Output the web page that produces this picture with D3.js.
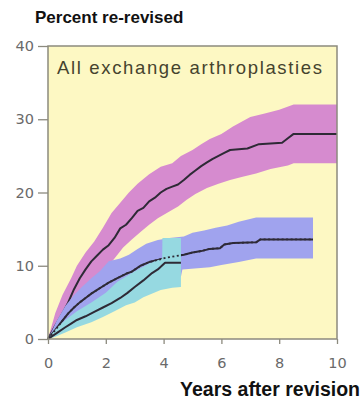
<!DOCTYPE html>
<html>
<head>
<meta charset="utf-8">
<script src="https://cdn.jsdelivr.net/npm/d3@7"></script>
<style>
  html, body { margin: 0; padding: 0; background: #ffffff; }
  svg { display: block; }
  text { font-family: "Liberation Sans", Arial, Helvetica, sans-serif; }
</style>
</head>
<body>
<svg id="chart" width="362" height="401"></svg>
<script>
// Cumulative re-revision (%) against years after revision, [years, percent]
const pinkLine = [[0,0],[0.25,1.8],[0.5,3.5],[0.7,5.0],[0.9,6.8],[1.1,8.3],[1.3,9.5],[1.5,10.6],[1.7,11.4],[1.9,12.2],[2.1,12.8],[2.3,13.8],[2.5,15.1],[2.7,15.6],[2.9,16.5],[3.1,17.5],[3.3,17.9],[3.5,18.8],[3.7,19.3],[3.9,20.0],[4.1,20.5],[4.3,20.8],[4.5,21.1],[4.7,21.7],[4.9,22.4],[5.1,23.0],[5.3,23.6],[5.5,24.1],[5.7,24.6],[5.9,25.0],[6.1,25.4],[6.3,25.8],[6.9,26.0],[7.3,26.6],[8.1,26.8],[8.3,27.4],[8.5,28.0],[10,28.0]];
const pinkUpper = [[0,0],[0.25,3.5],[0.5,6.0],[0.8,8.3],[1.0,10.0],[1.3,11.8],[1.6,13.3],[1.9,15.2],[2.2,17.2],[2.5,18.6],[2.8,20.0],[3.1,21.2],[3.5,22.5],[3.9,23.5],[4.3,24.0],[4.6,25.0],[5.0,25.8],[5.3,26.6],[5.6,27.3],[6.0,28.0],[6.4,29.0],[7.0,30.3],[7.5,30.8],[8.0,31.3],[8.5,32.0],[10,32.0]];
const pinkLower = [[0,0],[0.5,2.5],[1.0,5.0],[1.5,7.5],[2.0,9.6],[2.3,11.0],[2.6,12.5],[2.9,13.6],[3.2,14.6],[3.5,15.6],[3.8,16.5],[4.2,17.4],[4.5,18.1],[4.8,19.0],[5.1,19.8],[5.5,20.6],[5.9,21.2],[6.3,21.7],[6.7,22.1],[7.2,22.6],[7.7,23.2],[8.3,23.7],[8.5,24.0],[10,24.0]];

const blueLine = [[0,0],[0.25,1.2],[0.5,2.5],[0.7,3.5],[0.9,4.3],[1.1,5.0],[1.3,5.6],[1.5,6.2],[1.7,6.7],[1.9,7.2],[2.1,7.7],[2.4,8.3],[2.7,8.9],[2.9,9.2],[3.2,10.0],[3.5,10.5],[3.8,10.8],[4.1,11.1],[4.4,11.3],[4.7,11.5],[5.0,11.8],[5.3,12.0],[5.6,12.3],[5.95,12.4],[6.1,12.9],[6.4,13.1],[7.2,13.2],[7.35,13.6],[9.17,13.6]];
const blueUpper = [[0,0],[0.3,2.5],[0.6,4.5],[0.9,6.0],[1.2,7.2],[1.5,8.3],[1.8,9.3],[2.1,10.6],[2.5,11.0],[2.8,11.5],[3.1,12.3],[3.4,13.0],[3.8,13.5],[4.2,13.8],[4.7,14.0],[5.0,14.5],[5.4,14.8],[5.8,15.2],[6.2,15.5],[6.6,16.0],[7.2,16.6],[9.17,16.6]];
const blueLower = [[0,0],[0.5,1.5],[1.0,3.0],[1.5,4.3],[2.0,5.5],[2.5,6.5],[3.0,7.3],[3.5,7.8],[4.0,8.2],[4.6,8.5],[4.65,9.5],[5.6,9.8],[6.0,10.1],[6.6,10.5],[7.2,11.0],[9.17,11.0]];

const cyanLine = [[0,0],[0.3,0.8],[0.6,1.6],[0.8,2.1],[1.0,2.6],[1.3,3.1],[1.6,3.7],[1.9,4.3],[2.2,4.9],[2.5,5.6],[2.75,6.3],[3.0,7.1],[3.3,8.0],[3.6,9.0],[3.8,9.5],[4.05,10.4],[4.6,10.4]];
const cyanUpper = [[0,0],[0.3,1.5],[0.6,2.6],[1.0,3.8],[1.5,5.0],[2.0,6.3],[2.4,7.8],[2.9,9.0],[3.5,10.3],[3.95,11.0],[3.96,13.8],[4.6,13.8]];
const cyanLower = [[0,0],[0.25,0.3],[0.6,0.9],[1.0,1.6],[1.5,2.3],[1.9,3.0],[2.3,3.8],[2.7,4.6],[3.0,5.0],[3.3,5.7],[3.9,6.7],[4.3,7.0],[4.6,7.1]];

const xTicks = [0, 2, 4, 6, 8, 10];
const yTicks = [0, 10, 20, 30, 40];

const svg = d3.select("#chart");
const x = d3.scaleLinear().domain([0, 10]).range([48, 337]);
const y = d3.scaleLinear().domain([0, 40]).range([339, 46]);

const lineGen = d3.line().x(d => x(d[0])).y(d => y(d[1]));
function bandPath(upper, lower) {
  return lineGen(upper.concat(lower.slice().reverse())) + "Z";
}

// plot background
svg.append("rect")
  .attr("x", x(0)).attr("y", y(40))
  .attr("width", x(10) - x(0)).attr("height", y(0) - y(40))
  .attr("fill", "#fdf8c3");

const lineColor = "#2e2a36";

svg.append("path").attr("d", bandPath(pinkUpper, pinkLower)).attr("fill", "#d68bcf");
svg.append("path").attr("d", lineGen(pinkLine))
  .attr("fill", "none").attr("stroke", lineColor).attr("stroke-width", 2)
  .attr("stroke-linejoin", "round");

svg.append("path").attr("d", bandPath(blueUpper, blueLower)).attr("fill", "#a0a3ee");
svg.append("path").attr("d", lineGen(blueLine))
  .attr("fill", "none").attr("stroke", lineColor).attr("stroke-width", 2)
  .attr("stroke-linejoin", "round");

svg.append("path").attr("d", bandPath(cyanUpper, cyanLower)).attr("fill", "#96d9e1");
// blue curve shows through the cyan band as a dotted trace
svg.append("path").attr("d", lineGen(blueLine))
  .attr("fill", "none").attr("stroke", lineColor).attr("stroke-width", 1.8)
  .attr("stroke-dasharray", "2,2.5");
svg.append("path").attr("d", lineGen(cyanLine))
  .attr("fill", "none").attr("stroke", lineColor).attr("stroke-width", 2)
  .attr("stroke-linejoin", "round");

// frame
svg.append("rect")
  .attr("x", x(0)).attr("y", y(40))
  .attr("width", x(10) - x(0)).attr("height", y(0) - y(40))
  .attr("fill", "none").attr("stroke", "#8c8a7e").attr("stroke-width", 1.5);

// axes
const yAxis = svg.append("g")
  .attr("transform", `translate(${x(0)},0)`)
  .call(d3.axisLeft(y).tickValues(yTicks).tickSize(10).tickPadding(4));
const xAxis = svg.append("g")
  .attr("transform", `translate(0,${y(0)})`)
  .call(d3.axisBottom(x).tickValues(xTicks).tickSize(5).tickPadding(14));
[yAxis, xAxis].forEach(g => {
  g.select(".domain").remove();
  g.selectAll(".tick line").attr("stroke", "#8c8a7e").attr("stroke-width", 1.3);
  g.selectAll(".tick text")
    .attr("fill", "#6a6a6a")
    .style("font-size", "14.5px")
    .style("font-family", "'DejaVu Sans', Verdana, sans-serif");
});

// titles
svg.append("text")
  .attr("x", 35).attr("y", 23)
  .attr("font-size", 17).attr("font-weight", "bold").attr("fill", "#111")
  .text("Percent re-revised");
svg.append("text")
  .attr("x", 360).attr("y", 396)
  .attr("text-anchor", "end")
  .attr("font-size", 19.5).attr("font-weight", "bold").attr("fill", "#111")
  .text("Years after revision");
svg.append("text")
  .attr("x", 57).attr("y", 74)
  .attr("font-size", 18.5).attr("fill", "#45432e")
  .attr("textLength", 265).attr("lengthAdjust", "spacing")
  .text("All exchange arthroplasties");
</script>
</body>
</html>
